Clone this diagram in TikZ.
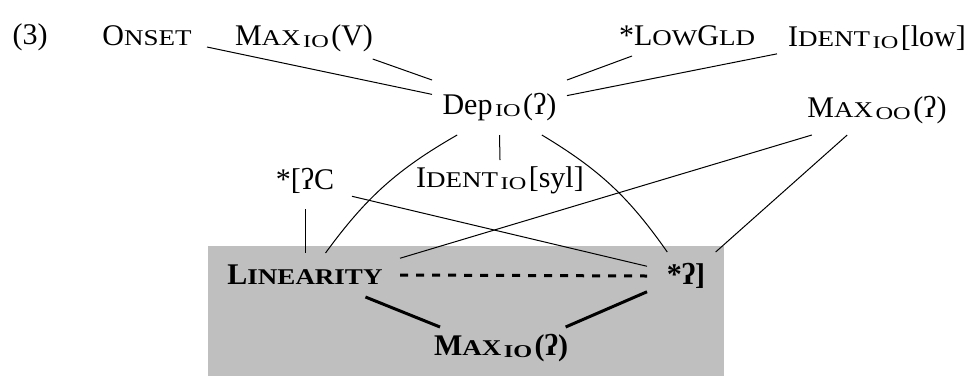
\documentclass[tikz,border=0pt]{standalone}
\usepackage{fontspec}
\setmainfont{Liberation Serif}
\usetikzlibrary{positioning}
\definecolor{blockgray}{gray}{0.75}
% small capitals and IO/OO subscripts by hand
\newcommand{\smc}[1]{{\fontsize{11.25}{12}\selectfont\addfontfeature{FakeStretch=1.2}#1}}
\newcommand{\io}[1]{\hspace{1.25pt}\raisebox{-1pt}{\fontsize{9}{10}\selectfont\addfontfeature{FakeStretch=1.35}#1}\hspace{1.25pt}}

\begin{document}
\begin{tikzpicture}[
 x=0.5pt,y=-0.5pt,
 font=\fontsize{15}{18}\selectfont,
 con/.style={inner sep=0pt,outer sep=0pt},
 rank/.style={line width=0.5pt},
 strong/.style={line width=1.5pt},
 tie/.style={line width=1.5pt,dash pattern=on 4pt off 4pt}
]
\useasboundingbox (0,0) rectangle (967,376);
\fill[blockgray] (208,246) rectangle (724,376);

\node[con] (num) at (30,37) {(3)};
\node[con,minimum width=60pt,minimum height=11pt] (onset) at (147,36) {O\smc{NSET}};
\node[con,minimum width=73pt,minimum height=21pt] (maxv) at (304,38) {M\smc{AX}\io{IO}(V)};
\node[con,minimum width=70pt,minimum height=20pt] (lowgld) at (687,36) {*L\smc{OW}G\smc{LD}};
\node[con,minimum width=100pt,minimum height=16pt] (identlow) at (877,38) {I\smc{DENT}\io{IO}[low]};
\node[con,minimum width=67.5pt,minimum height=27.5pt] (dep) at (499.5,107.5) {Dep\io{IO}(ʔ)};
\node[con,minimum width=72pt,minimum height=25pt] (maxoo) at (877,110) {M\smc{AX}\io{OO}(ʔ)};
\node[con,minimum width=47pt,minimum height=28pt] (glotc) at (305,181) {*[ʔC};
\node[con,minimum width=85pt,minimum height=20pt] (identsyl) at (500,180) {I\smc{DENT}\io{IO}[syl]};
\node[con,minimum width=95pt,minimum height=22pt] (lin) at (305,275) {\textbf{L\smc{INEARITY}}};
\node[con,minimum width=39pt,minimum height=24pt] (glotr) at (686,276) {\textbf{*ʔ]}};
\node[con,minimum width=70pt,minimum height=21pt] (maxglot) at (501,348) {\textbf{M\smc{AX}\io{IO}(ʔ)}};

% rankings above the shaded block
\draw[rank] (onset.south east) -- (dep.169);
\draw[rank] (maxv.-17.6) -- (dep.north west);
\draw[rank] (lowgld.200) -- (dep.north east);
\draw[rank] (identlow.189.1) -- (dep.10);
\draw[rank] (dep.south) -- (identsyl.north);
\draw[rank] (dep.213.5) to[bend right=12] (lin.47.7);
\draw[rank] (dep.327) to[bend left=12] (glotr.128);
\draw[rank] (glotc.south) -- (glotc.south |- lin.north);
\draw[rank] (glotc.-18.8) -- (glotr.166.8);
\draw[rank] (maxoo.201.3) -- (lin.10.7);
\draw[rank] (maxoo.220.8) -- (glotr.39.6);

% inside the block
\draw[tie] (lin.east) -- (glotr.west);
\draw[strong] (lin.-20.4) -- (maxglot.161.8);
\draw[strong] (glotr.202.4) -- (maxglot.18.7);
\end{tikzpicture}
\end{document}
